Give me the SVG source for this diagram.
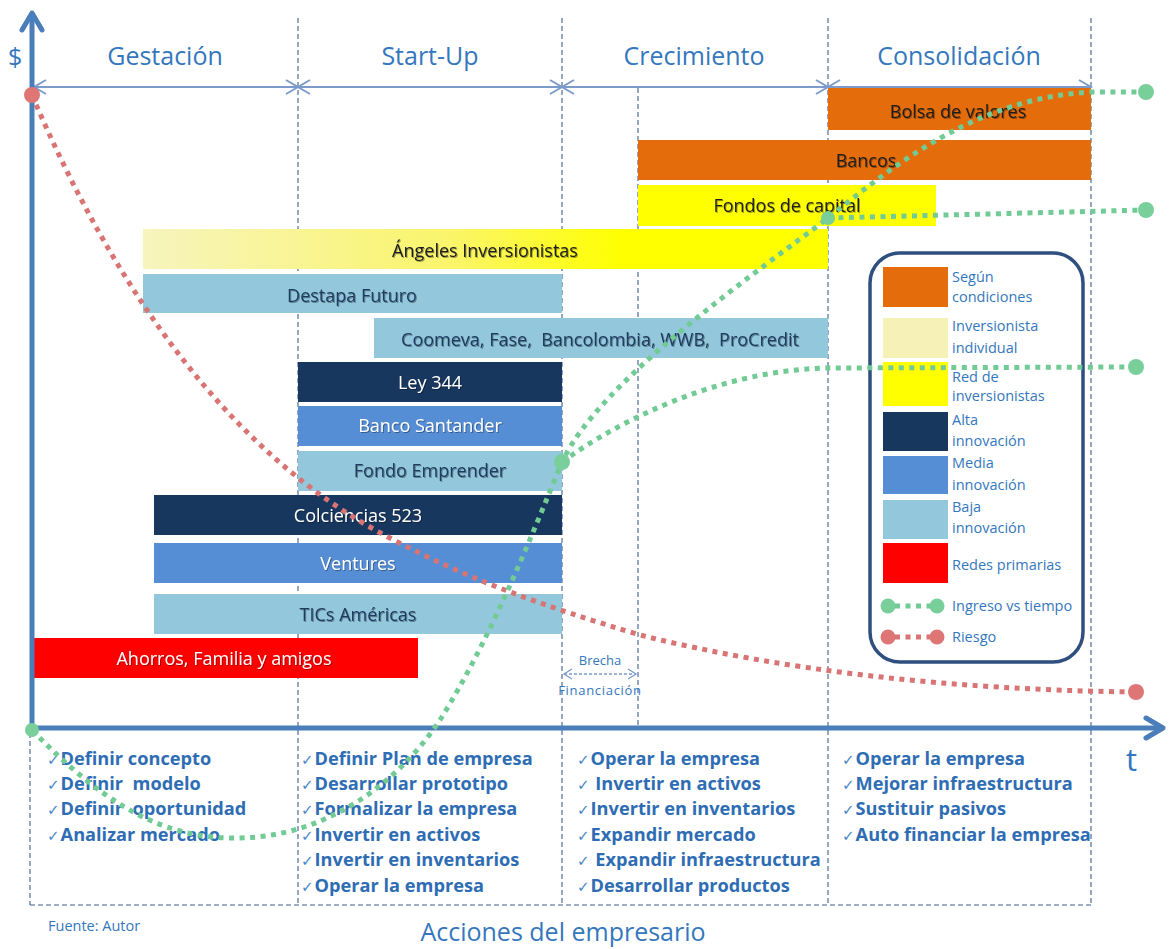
<svg xmlns="http://www.w3.org/2000/svg" width="1171" height="949" viewBox="0 0 1171 949">
  <style>
    .hdr { font-family: "Open Sans", Lato, "Liberation Sans", sans-serif; font-size: 25px; fill: #3577BD; }
    .bar-t { font-family: "Open Sans", Lato, "Liberation Sans", sans-serif; font-size: 18px; text-anchor: middle; }
    .dk { fill: #1C1C1C; }
    .nv { fill: #1F3B60; }
    .wh { fill: #FFFFFF; }
    .leg { font-family: "Open Sans", Lato, "Liberation Sans", sans-serif; font-size: 14.5px; fill: #3577BD; }
    .act { font-family: "Open Sans", Lato, "Liberation Sans", sans-serif; font-size: 18.2px; font-weight: bold; fill: #2E6DB4; white-space: pre; }
    .chk { font-family: "DejaVu Sans", sans-serif; font-size: 15px; font-weight: normal; fill: #4A86C8; }
    .small { font-family: "Open Sans", Lato, "Liberation Sans", sans-serif; font-size: 13px; fill: #3577BD; text-anchor: middle; }
    .vdash { stroke: #3F5F8F; stroke-width: 1.1; stroke-dasharray: 5 3; fill: none; }
    .span { stroke: #7C9BCB; stroke-width: 2; fill: none; }
    .axis { stroke: #4A7EBB; stroke-width: 5; fill: none; stroke-linecap: round; stroke-linejoin: round; }
    .inc { stroke: #72CB94; stroke-width: 5; stroke-dasharray: 5 5.5; fill: none; }
    .risk { stroke: #D97474; stroke-width: 5; stroke-dasharray: 5 5.5; fill: none; }
    .gdot { fill: #79CF9A; }
    .rdot { fill: #DE7676; }
    .orange { fill: #E46C0A; }
    .yellow { fill: #FFFF00; }
    .pale { fill: #F6F2B7; }
    .navy { fill: #17375E; }
    .mid { fill: #558ED5; }
    .light { fill: #93C8DC; }
    .red { fill: #FF0000; }
  </style>
  <defs>
    <linearGradient id="angelGrad" x1="0" y1="0" x2="1" y2="0">
      <stop offset="0" stop-color="#F7F4BE"/>
      <stop offset="0.45" stop-color="#FAF56A"/>
      <stop offset="0.7" stop-color="#FFFF00"/>
      <stop offset="1" stop-color="#FFFF00"/>
    </linearGradient>
    <filter id="txtShadow" x="-10%" y="-30%" width="120%" height="160%">
      <feDropShadow dx="1" dy="1" stdDeviation="0.7" flood-color="#000" flood-opacity="0.35"/>
    </filter>
  </defs>

  <rect width="1171" height="949" fill="#FFFFFF"/>

  <!-- phase separators and the box for the entrepreneur's actions -->
  <g id="grid">
    <line class="vdash" x1="298" y1="18" x2="298" y2="905"/>
    <line class="vdash" x1="562" y1="18" x2="562" y2="905"/>
    <line class="vdash" x1="828" y1="18" x2="828" y2="905"/>
    <line class="vdash" x1="1091" y1="18" x2="1091" y2="905"/>
    <line class="vdash" x1="638" y1="88" x2="638" y2="728"/>
    <line class="vdash" x1="30" y1="733" x2="30" y2="905"/>
    <line class="vdash" x1="30" y1="905" x2="1091" y2="905"/>
  </g>

  <!-- phase headers -->
  <g id="phases">
    <text class="hdr" x="8" y="66">$</text>
    <text class="hdr" x="165" y="65" text-anchor="middle">Gestación</text>
    <text class="hdr" x="430" y="65" text-anchor="middle">Start-Up</text>
    <text class="hdr" x="694" y="65" text-anchor="middle">Crecimiento</text>
    <text class="hdr" x="959" y="65" text-anchor="middle">Consolidación</text>
  </g>

  <!-- phase spans -->
  <g id="phase-spans">
    <line class="span" x1="33" y1="87" x2="1091" y2="87"/>
    <polyline class="span" points="46,80 34,87 46,94"/>
    <polyline class="span" points="286,80 298,87 286,94"/>
    <polyline class="span" points="310,80 298,87 310,94"/>
    <polyline class="span" points="550,80 562,87 550,94"/>
    <polyline class="span" points="574,80 562,87 574,94"/>
    <polyline class="span" points="816,80 828,87 816,94"/>
    <polyline class="span" points="840,80 828,87 840,94"/>
    <polyline class="span" points="1079,80 1091,87 1079,94"/>
  </g>

  <!-- funding sources -->
  <g id="bolsa">
    <rect class="orange" x="828" y="88" width="263" height="42"/>
    <text class="bar-t dk" x="958" y="118" filter="url(#txtShadow)">Bolsa de valores</text>
  </g>
  <g id="bancos">
    <rect class="orange" x="638" y="140" width="453" height="40"/>
    <text class="bar-t dk" x="866" y="167" filter="url(#txtShadow)">Bancos</text>
  </g>
  <g id="fondos-capital">
    <rect class="yellow" x="638" y="185" width="298" height="41"/>
    <text class="bar-t dk" x="787" y="212" filter="url(#txtShadow)">Fondos de capital</text>
  </g>
  <g id="angeles">
    <rect x="143" y="229" width="685" height="40" fill="url(#angelGrad)"/>
    <text class="bar-t dk" x="485" y="257" filter="url(#txtShadow)">Ángeles Inversionistas</text>
  </g>
  <g id="destapa">
    <rect class="light" x="143" y="274" width="419" height="39"/>
    <text class="bar-t nv" x="352" y="302" filter="url(#txtShadow)">Destapa Futuro</text>
  </g>
  <g id="coomeva">
    <rect class="light" x="374" y="318" width="454" height="40"/>
    <text class="bar-t nv" x="600" y="346" filter="url(#txtShadow)" style="white-space:pre">Coomeva, Fase,  Bancolombia, WWB,  ProCredit</text>
  </g>
  <g id="ley344">
    <rect class="navy" x="298" y="362" width="264" height="40"/>
    <text class="bar-t wh" x="430" y="389" filter="url(#txtShadow)">Ley 344</text>
  </g>
  <g id="santander">
    <rect class="mid" x="298" y="406" width="264" height="40"/>
    <text class="bar-t wh" x="430" y="432" filter="url(#txtShadow)">Banco Santander</text>
  </g>
  <g id="fondo-emprender">
    <rect class="light" x="298" y="451" width="264" height="40"/>
    <text class="bar-t nv" x="430" y="477" filter="url(#txtShadow)">Fondo Emprender</text>
  </g>
  <g id="colciencias">
    <rect class="navy" x="154" y="495" width="408" height="40"/>
    <text class="bar-t wh" x="358" y="522" filter="url(#txtShadow)">Colciencias 523</text>
  </g>
  <g id="ventures">
    <rect class="mid" x="154" y="543" width="408" height="40"/>
    <text class="bar-t wh" x="358" y="570" filter="url(#txtShadow)">Ventures</text>
  </g>
  <g id="tics">
    <rect class="light" x="154" y="594" width="408" height="40"/>
    <text class="bar-t nv" x="358" y="621" filter="url(#txtShadow)">TICs Américas</text>
  </g>
  <g id="ahorros">
    <rect class="red" x="32" y="638" width="386" height="40"/>
    <text class="bar-t wh" x="224" y="665" filter="url(#txtShadow)">Ahorros, Familia y amigos</text>
  </g>

  <!-- funding gap between start-up and growth -->
  <g id="brecha">
    <text class="small" x="600" y="665">Brecha</text>
    <line x1="564" y1="674" x2="636" y2="674" stroke="#7C9BCB" stroke-width="1.3" stroke-dasharray="3 2"/>
    <polyline points="572,669 564,674 572,679" fill="none" stroke="#7C9BCB" stroke-width="1.3"/>
    <polyline points="628,669 636,674 628,679" fill="none" stroke="#7C9BCB" stroke-width="1.3"/>
    <text class="small" x="600" y="695" letter-spacing="0.7">Financiación</text>
  </g>

  <!-- legend -->
  <g id="legend">
    <rect x="870" y="253" width="213" height="409" rx="30" ry="30" fill="#FFFFFF" stroke="#2F4F7F" stroke-width="3.5"/>
    <rect class="orange" x="883" y="267" width="65" height="40"/>
    <text class="leg" x="952" y="282">Según</text>
    <text class="leg" x="952" y="302">condiciones</text>
    <rect class="pale" x="883" y="318" width="65" height="40"/>
    <text class="leg" x="952" y="331">Inversionista</text>
    <text class="leg" x="952" y="353">individual</text>
    <rect class="yellow" x="883" y="362" width="65" height="44"/>
    <text class="leg" x="952" y="382">Red de</text>
    <text class="leg" x="952" y="401">inversionistas</text>
    <rect class="navy" x="883" y="412" width="65" height="39"/>
    <text class="leg" x="952" y="425">Alta</text>
    <text class="leg" x="952" y="446">innovación</text>
    <rect class="mid" x="883" y="456" width="65" height="38"/>
    <text class="leg" x="952" y="468">Media</text>
    <text class="leg" x="952" y="490">innovación</text>
    <rect class="light" x="883" y="500" width="65" height="39"/>
    <text class="leg" x="952" y="512">Baja</text>
    <text class="leg" x="952" y="533">innovación</text>
    <rect class="red" x="883" y="543" width="65" height="40"/>
    <text class="leg" x="952" y="570">Redes primarias</text>
    <line class="inc" x1="895" y1="606" x2="930" y2="606"/>
    <circle class="gdot" cx="888" cy="606" r="7.5"/>
    <circle class="gdot" cx="937" cy="606" r="7.5"/>
    <text class="leg" x="952" y="611">Ingreso vs tiempo</text>
    <line class="risk" x1="895" y1="637" x2="930" y2="637"/>
    <circle class="rdot" cx="888" cy="637" r="7.5"/>
    <circle class="rdot" cx="937" cy="637" r="7.5"/>
    <text class="leg" x="952" y="642">Riesgo</text>
  </g>

  <!-- entrepreneur actions per phase -->
  <g id="acciones-gestacion">
    <text class="act" x="47" y="765"><tspan class="chk">✓</tspan><tspan dx="1">Definir concepto</tspan></text>
    <text class="act" x="47" y="790"><tspan class="chk">✓</tspan><tspan dx="1">Definir  modelo</tspan></text>
    <text class="act" x="47" y="815"><tspan class="chk">✓</tspan><tspan dx="1">Definir  oportunidad</tspan></text>
    <text class="act" x="47" y="841"><tspan class="chk">✓</tspan><tspan dx="1">Analizar mercado</tspan></text>
  </g>
  <g id="acciones-startup">
    <text class="act" x="301" y="765"><tspan class="chk">✓</tspan><tspan dx="1">Definir Plan de empresa</tspan></text>
    <text class="act" x="301" y="790"><tspan class="chk">✓</tspan><tspan dx="1">Desarrollar prototipo</tspan></text>
    <text class="act" x="301" y="815"><tspan class="chk">✓</tspan><tspan dx="1">Formalizar la empresa</tspan></text>
    <text class="act" x="301" y="841"><tspan class="chk">✓</tspan><tspan dx="1">Invertir en activos</tspan></text>
    <text class="act" x="301" y="866"><tspan class="chk">✓</tspan><tspan dx="1">Invertir en inventarios</tspan></text>
    <text class="act" x="301" y="892"><tspan class="chk">✓</tspan><tspan dx="1">Operar la empresa</tspan></text>
  </g>
  <g id="acciones-crecimiento">
    <text class="act" x="577" y="765"><tspan class="chk">✓</tspan><tspan dx="1">Operar la empresa</tspan></text>
    <text class="act" x="577" y="790"><tspan class="chk">✓</tspan><tspan dx="1"> Invertir en activos</tspan></text>
    <text class="act" x="577" y="815"><tspan class="chk">✓</tspan><tspan dx="1">Invertir en inventarios</tspan></text>
    <text class="act" x="577" y="841"><tspan class="chk">✓</tspan><tspan dx="1">Expandir mercado</tspan></text>
    <text class="act" x="577" y="866"><tspan class="chk">✓</tspan><tspan dx="1"> Expandir infraestructura</tspan></text>
    <text class="act" x="577" y="892"><tspan class="chk">✓</tspan><tspan dx="1">Desarrollar productos</tspan></text>
  </g>
  <g id="acciones-consolidacion">
    <text class="act" x="842" y="765"><tspan class="chk">✓</tspan><tspan dx="1">Operar la empresa</tspan></text>
    <text class="act" x="842" y="790"><tspan class="chk">✓</tspan><tspan dx="1">Mejorar infraestructura</tspan></text>
    <text class="act" x="842" y="815"><tspan class="chk">✓</tspan><tspan dx="1">Sustituir pasivos</tspan></text>
    <text class="act" x="842" y="841"><tspan class="chk">✓</tspan><tspan dx="1">Auto financiar la empresa</tspan></text>
  </g>

  <g id="captions">
    <text x="48" y="931" font-family="'Open Sans', Lato, 'Liberation Sans', sans-serif" font-size="14.5" fill="#3577BD">Fuente: Autor</text>
    <text x="563" y="941" text-anchor="middle" font-family="'Open Sans', Lato, 'Liberation Sans', sans-serif" font-size="25" fill="#3577BD">Acciones del empresario</text>
    <text x="1126" y="771" font-family="'Open Sans', Lato, 'Liberation Sans', sans-serif" font-size="31" fill="#3577BD">t</text>
  </g>

  <!-- axes -->
  <g id="axes">
    <line class="axis" x1="32" y1="730" x2="32" y2="14"/>
    <polyline class="axis" points="22,30 32,13 42,30"/>
    <line class="axis" x1="30" y1="728" x2="1162" y2="728"/>
    <polyline class="axis" points="1146,718 1163,728 1146,738"/>
  </g>

  <!-- income and risk curves -->
  <g id="connectors">
    <path class="risk" d="M32,95 C115,290 230,455 390,538 C470,580 540,605 640,635 C780,670 950,690 1136,692"/>
    <path class="inc" d="M32,730 C100,800 160,840 240,838 C330,836 400,780 440,720 C490,640 530,540 562,462 C600,380 760,270 828,218 C900,160 980,98 1091,92 L1146,92"/>
    <path class="inc" d="M562,462 C620,420 720,370 828,368 L1136,367"/>
    <path class="inc" d="M828,218 L1146,210"/>
    <circle class="rdot" cx="32" cy="95" r="8"/>
    <circle class="rdot" cx="1136" cy="692" r="8"/>
    <circle class="gdot" cx="32" cy="730" r="7"/>
    <circle class="gdot" cx="562" cy="462" r="8"/>
    <circle class="gdot" cx="828" cy="218" r="7"/>
    <circle class="gdot" cx="1146" cy="92" r="8"/>
    <circle class="gdot" cx="1146" cy="210" r="8"/>
    <circle class="gdot" cx="1136" cy="367" r="8"/>
  </g>
</svg>
